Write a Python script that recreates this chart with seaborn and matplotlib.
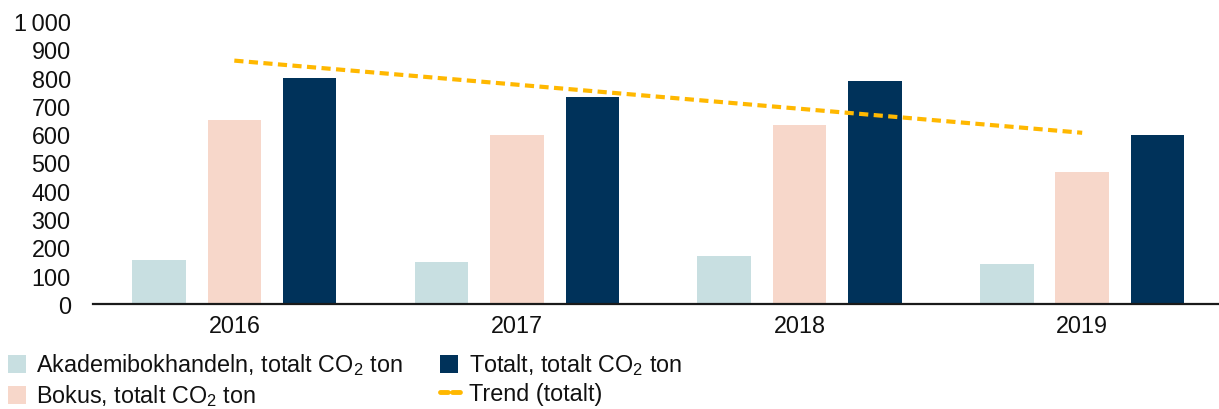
import numpy as np
import pandas as pd
import matplotlib
matplotlib.use("Agg")
import matplotlib.pyplot as plt
import seaborn as sns
from matplotlib.patches import Patch, Rectangle
from matplotlib.lines import Line2D
from matplotlib.legend_handler import HandlerPatch
from matplotlib.ticker import FuncFormatter

# ---- data ----
years = ["2016", "2017", "2018", "2019"]
akademibokhandeln = [156, 150, 170, 142]
bokus = [650, 597, 632, 466]
totalt = [797, 731, 787, 596]
trend_totalt = [860, 775, 690, 605]

series_names = [
    "Akademibokhandeln, totalt CO$_2$ ton",
    "Bokus, totalt CO$_2$ ton",
    "Totalt, totalt CO$_2$ ton",
]
trend_name = "Trend (totalt)"
y_ticks = [0, 100, 200, 300, 400, 500, 600, 700, 800, 900, 1000]

colors = ["#C8DFE1", "#F7D7CA", "#00325A"]
trend_color = "#FFB800"

# ---- style ----
sns.set_style("white")
plt.rcParams["font.family"] = ["Liberation Sans", "DejaVu Sans"]
plt.rcParams["mathtext.fontset"] = "custom"
plt.rcParams["mathtext.rm"] = "Liberation Sans"
plt.rcParams["mathtext.it"] = "Liberation Sans"
plt.rcParams["mathtext.default"] = "regular"

FS = 16.8

df = pd.DataFrame({
    "year": years * 3,
    "serie": [series_names[0]] * 4 + [series_names[1]] * 4 + [series_names[2]] * 4,
    "value": akademibokhandeln + bokus + totalt,
})

W, H = 1219, 410
fig = plt.figure(figsize=(W / 100, H / 100), dpi=100)
ax_left, ax_bottom = 93 / W, (H - 305) / H
ax_width = (1223.5 - 93) / W
ax_height = (305 - 22) / H
ax = fig.add_axes([ax_left, ax_bottom, ax_width, ax_height])

sns.barplot(data=df, x="year", y="value", hue="serie", order=years,
            hue_order=series_names, palette=colors, width=0.8, gap=0.29,
            saturation=1, legend=False, ax=ax, linewidth=0)

sns.lineplot(x=np.arange(len(years)), y=trend_totalt, ax=ax, color=trend_color,
             linewidth=3, linestyle=(0, (2.2, 1.3)), dash_capstyle="butt",
             legend=False)

ax.set_xlim(-0.5, 3.5)
ax.set_ylim(0, 1000)
ax.set_yticks(y_ticks)
ax.yaxis.set_major_formatter(FuncFormatter(lambda v, p: f"{int(v):,}".replace(",", "\u2009")))
ax.set_xlabel("")
ax.set_ylabel("")
for s in ["top", "right", "left"]:
    ax.spines[s].set_visible(False)
ax.spines["bottom"].set_color("#1a1a1a")
ax.spines["bottom"].set_linewidth(1.6)
ax.tick_params(axis="both", length=0, labelsize=FS, colors="#111111")
ax.tick_params(axis="y", pad=16)
ax.tick_params(axis="x", pad=7)
ax.grid(False)

# ---- legend ----
def square_patch(legend, orig_handle, xdescent, ydescent, width, height, fontsize):
    return Rectangle((-xdescent, -ydescent - 1), height + 1, height + 1)

handles = [Patch(facecolor=c, edgecolor="none") for c in colors]
handles.append(Line2D([0], [0], color=trend_color, linewidth=3.5,
                      linestyle=(0, (1.6, 0.9)), dash_capstyle="round"))
labels = series_names + [trend_name]
leg = fig.legend(handles, labels, loc="upper left",
                 bbox_to_anchor=(8 / W, (H - 352) / H), ncol=2, frameon=False,
                 fontsize=FS, handlelength=0.9, handleheight=0.72,
                 handletextpad=0.32, columnspacing=1.6, labelspacing=0.22,
                 borderpad=0, borderaxespad=0,
                 handler_map={Patch: HandlerPatch(patch_func=square_patch)})
for t in leg.get_texts():
    t.set_color("#111111")

fig.savefig("out.png", dpi=100)
